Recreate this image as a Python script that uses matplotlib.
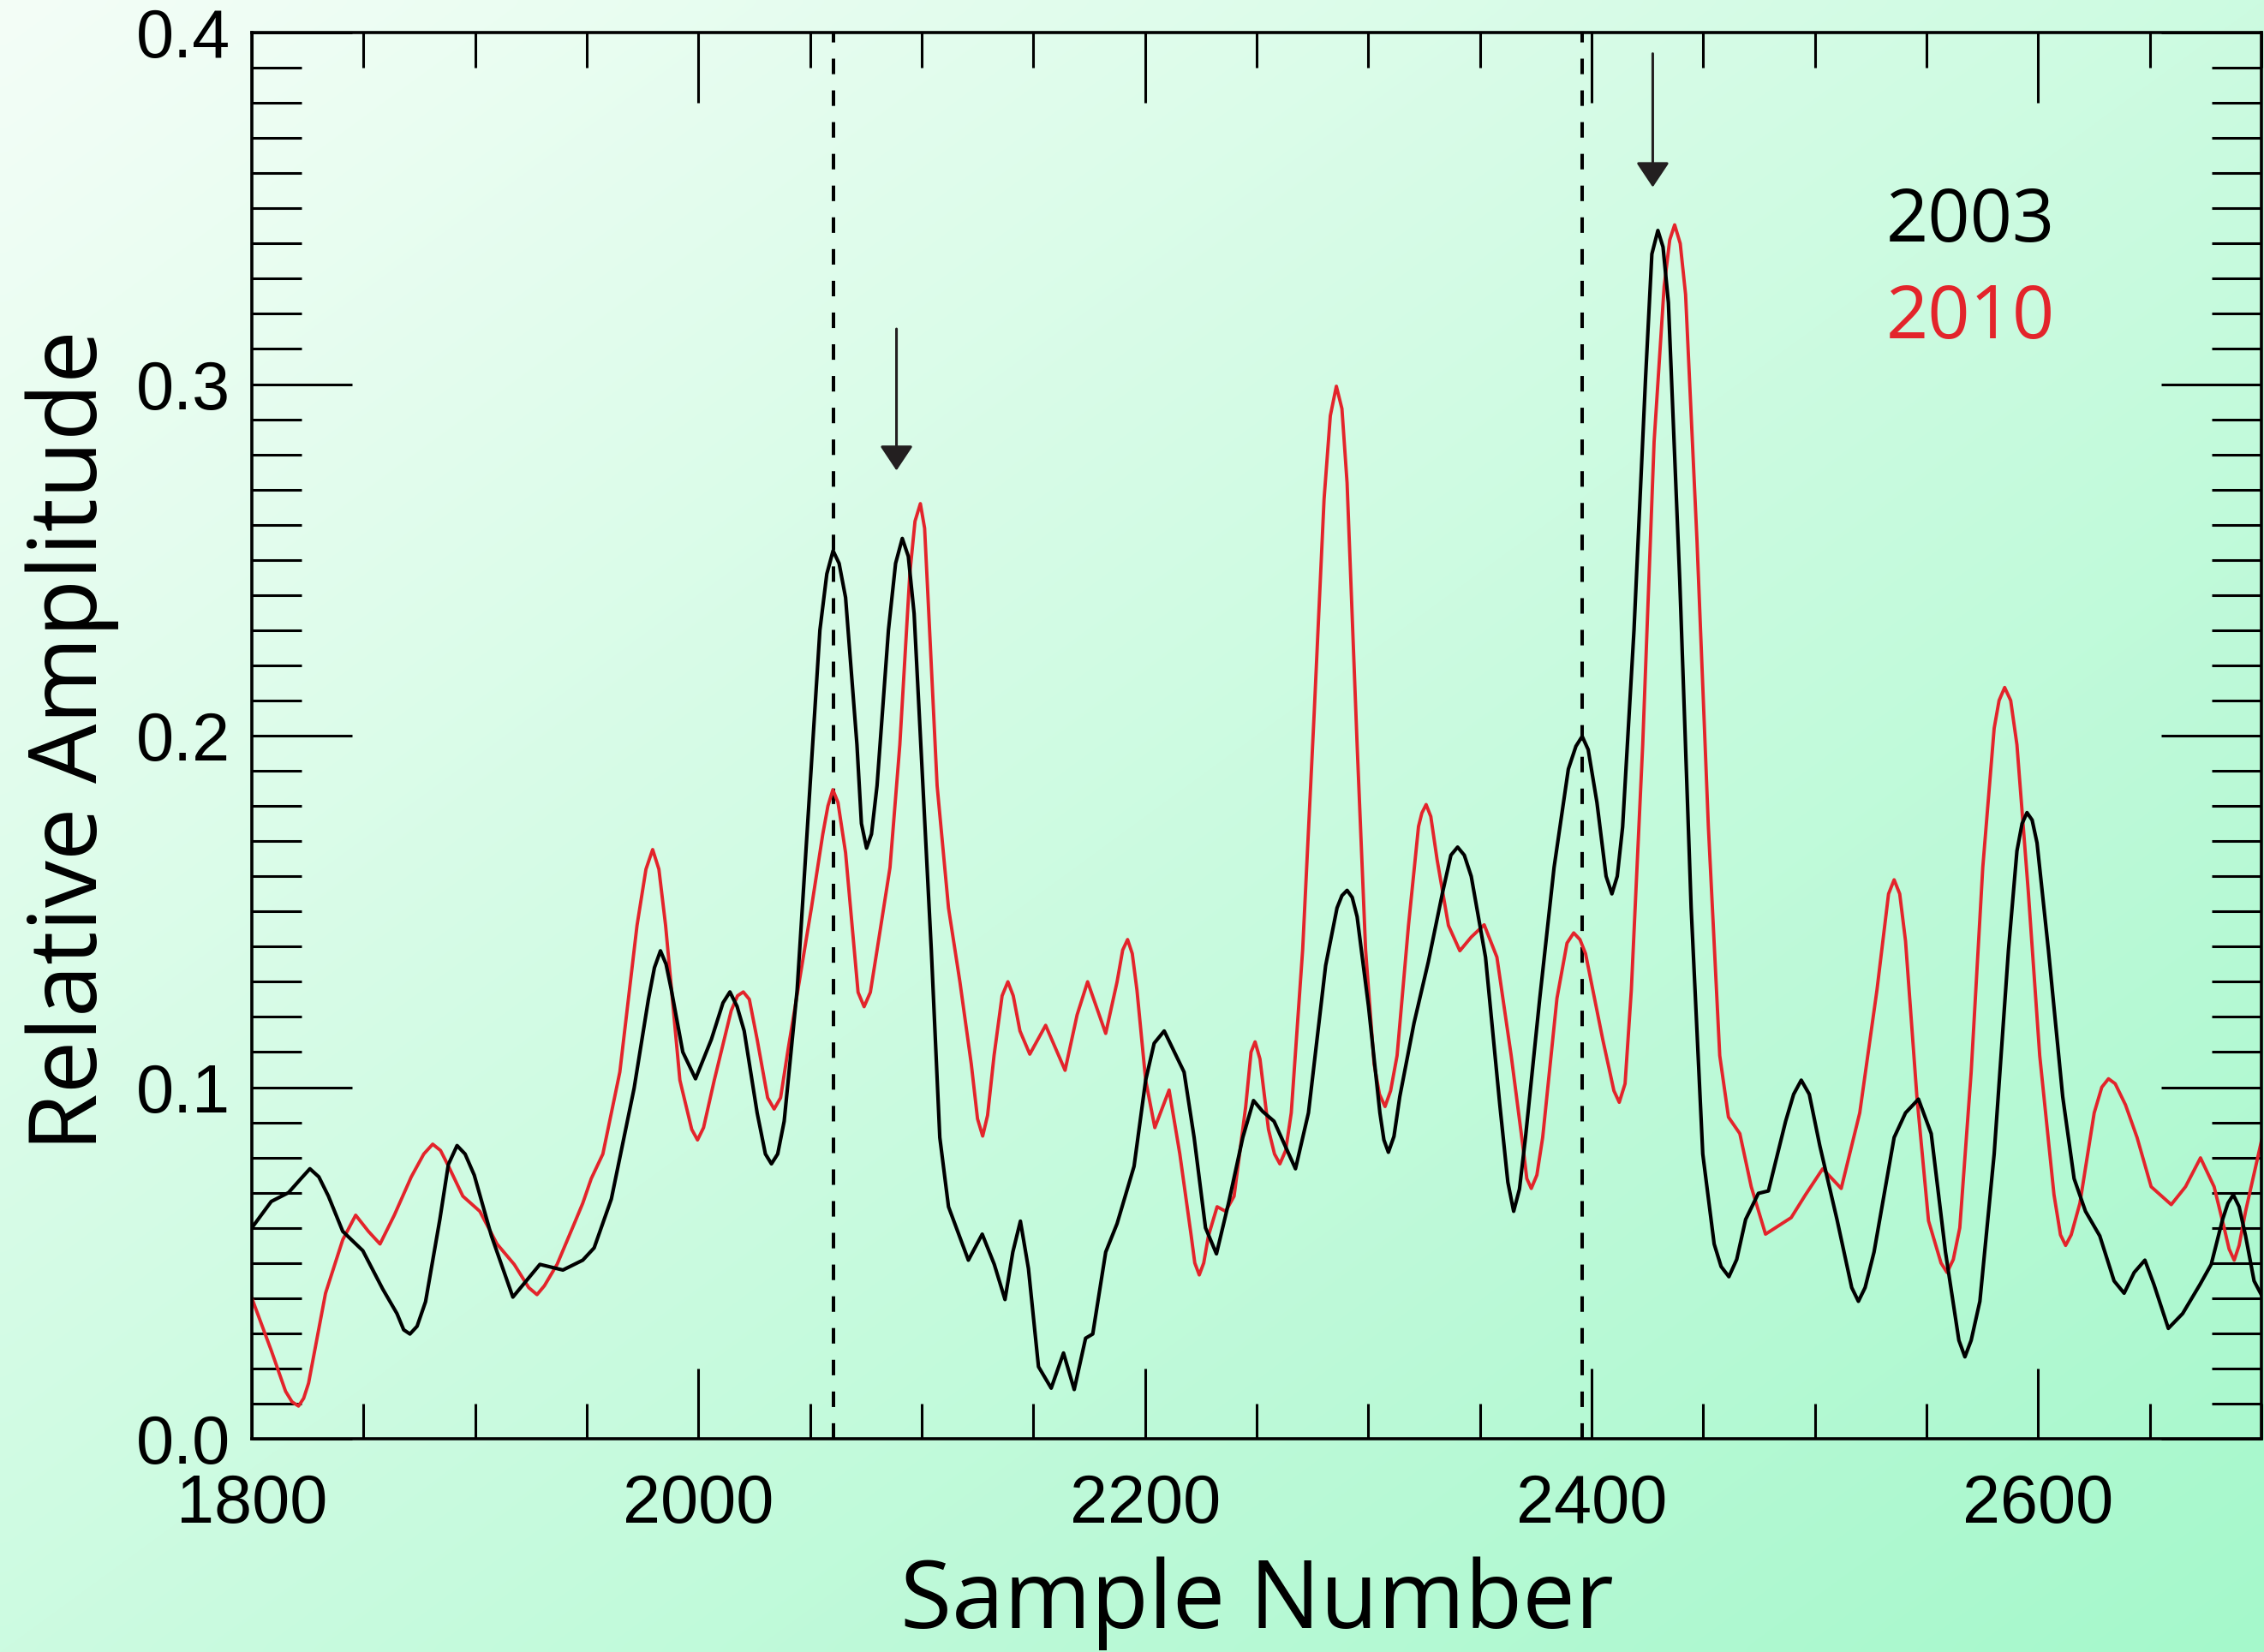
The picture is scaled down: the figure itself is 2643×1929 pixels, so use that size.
import numpy as np
import matplotlib
matplotlib.use("Agg")
import matplotlib.pyplot as plt
from matplotlib.ticker import MultipleLocator, FormatStrFormatter

# ---- data: (sample number, relative amplitude) ----
pts_2003 = [
    (1800, 0.060), (1808.7, 0.0675), (1816.4, 0.070), (1822, 0.074), (1826, 0.0768),
    (1830, 0.0745), (1834.3, 0.069), (1840.7, 0.059), (1849.7, 0.0535), (1858.6, 0.0426),
    (1865, 0.0356), (1868, 0.031), (1870.8, 0.0298), (1874, 0.032), (1877.8, 0.039),
    (1884.2, 0.0624), (1888, 0.078), (1891.9, 0.0834), (1895.5, 0.081), (1899.6, 0.075),
    (1907.3, 0.0577), (1916.9, 0.0403), (1929, 0.0496), (1939.3, 0.048), (1948.2, 0.0508),
    (1953.3, 0.0543), (1961, 0.0682), (1971.2, 0.0997), (1977.6, 0.125), (1980.3, 0.134),
    (1983, 0.1388), (1985.5, 0.135), (1987.9, 0.1276), (1993, 0.110), (1998.7, 0.1024),
    (2005.8, 0.1136), (2011, 0.124), (2014.1, 0.1271), (2017.3, 0.123), (2020.5, 0.116),
    (2026.3, 0.0927), (2030, 0.081), (2032.7, 0.0782), (2035.5, 0.081), (2038.4, 0.0903),
    (2044.2, 0.1276), (2049.3, 0.1788), (2054.4, 0.230), (2057.5, 0.246), (2060.3, 0.2526),
    (2063, 0.249), (2065.9, 0.2393), (2071, 0.1974), (2073, 0.175), (2075.3, 0.168),
    (2077.5, 0.172), (2080, 0.1858), (2085.1, 0.230), (2088.3, 0.249), (2091.3, 0.2561),
    (2094, 0.251), (2096.6, 0.2347), (2099, 0.205), (2101.8, 0.170), (2104.3, 0.139),
    (2108.1, 0.0857), (2112, 0.066), (2120.9, 0.0508), (2127.1, 0.0582), (2132.5, 0.0496),
    (2137.3, 0.0396), (2140.8, 0.0531), (2144.2, 0.0619), (2147.8, 0.0484), (2152.3, 0.0205),
    (2158, 0.0144), (2163.5, 0.0244), (2168.3, 0.014), (2173.4, 0.0286), (2176.6, 0.0298),
    (2182.4, 0.0531), (2187.5, 0.0612), (2195.1, 0.0775), (2200.3, 0.102), (2204.1, 0.1125),
    (2208.6, 0.116), (2217.5, 0.1043), (2222, 0.0857), (2227.1, 0.060), (2232, 0.0526),
    (2237.4, 0.067), (2243.8, 0.0857), (2248.6, 0.0962), (2252.7, 0.0931), (2257.8, 0.0903),
    (2267.4, 0.0768), (2273.2, 0.0927), (2280.9, 0.1346), (2286, 0.151), (2288.2, 0.1545),
    (2290.5, 0.156), (2292.8, 0.154), (2295, 0.1485), (2300.1, 0.123), (2305.2, 0.0927),
    (2307, 0.085), (2309, 0.0815), (2311.5, 0.086), (2314.1, 0.0973), (2320.5, 0.1183),
    (2326.9, 0.1357), (2333.3, 0.1555), (2337, 0.166), (2340, 0.1683), (2343, 0.166),
    (2346.1, 0.160), (2352.5, 0.137), (2358.9, 0.095), (2362.5, 0.073), (2365.1, 0.0647),
    (2367.7, 0.071), (2370.4, 0.0857), (2376.8, 0.1253), (2383.2, 0.1625), (2389.6, 0.1905),
    (2393, 0.197), (2395.8, 0.1998), (2398.5, 0.196), (2402.4, 0.181), (2406.5, 0.160),
    (2409.1, 0.155), (2411.5, 0.160), (2413.9, 0.174), (2419, 0.230), (2424.2, 0.302),
    (2427, 0.337), (2429.7, 0.3437), (2432, 0.339), (2434.4, 0.3232), (2439.5, 0.244),
    (2444.6, 0.151), (2449.8, 0.081), (2454.9, 0.0554), (2458, 0.049), (2461.5, 0.0461),
    (2465, 0.051), (2469, 0.0624), (2474.7, 0.0698), (2479.2, 0.0705), (2486.9, 0.0903),
    (2490.5, 0.098), (2493.9, 0.102), (2497.5, 0.098), (2502.2, 0.0834), (2509.9, 0.0624),
    (2516.5, 0.043), (2519.5, 0.0391), (2522.5, 0.043), (2526.5, 0.0531), (2535.5, 0.0857),
    (2540.6, 0.0927), (2546.4, 0.0966), (2552.1, 0.0868), (2558.5, 0.0531), (2564.5, 0.028),
    (2567.2, 0.0233), (2570, 0.028), (2573.9, 0.0391), (2580.3, 0.081), (2586.7, 0.139),
    (2590.5, 0.1672), (2592.8, 0.175), (2595, 0.1781), (2597.3, 0.176), (2599.5, 0.1695),
    (2604.6, 0.139), (2611, 0.0973), (2616.1, 0.074), (2621.2, 0.0647), (2627.6, 0.0577),
    (2634, 0.0449), (2638.5, 0.0414), (2643, 0.0473), (2647.8, 0.0508), (2651.9, 0.0438),
    (2658.3, 0.0314), (2664.7, 0.0356), (2672.4, 0.0438), (2677.5, 0.0496), (2682.6, 0.0624),
    (2685, 0.067), (2687.4, 0.0694), (2690, 0.066), (2692.9, 0.0577), (2696.7, 0.0449),
    (2700.5, 0.0403),
]

pts_2010 = [
    (1800, 0.040), (1808.7, 0.0251), (1815.1, 0.0135), (1818, 0.0105), (1820.9, 0.0093),
    (1823.2, 0.0115), (1825.4, 0.0158), (1833, 0.0414), (1840.7, 0.0566), (1846.5, 0.0636),
    (1852.2, 0.059), (1857.4, 0.0554), (1863.8, 0.0636), (1871.4, 0.0745), (1877, 0.081),
    (1881, 0.0838), (1884.5, 0.082), (1888.1, 0.0775), (1894.5, 0.069), (1902.1, 0.0647),
    (1909.8, 0.0554), (1917.5, 0.0496), (1924, 0.043), (1927.7, 0.041), (1931, 0.0435),
    (1936.7, 0.0496), (1944.4, 0.0612), (1948.2, 0.067), (1952, 0.074), (1957.2, 0.081),
    (1964.8, 0.1043), (1972.5, 0.146), (1976.5, 0.162), (1979.5, 0.1676), (1982.3, 0.162),
    (1985.3, 0.146), (1991.7, 0.102), (1997, 0.088), (1999.6, 0.085), (2002.3, 0.0885),
    (2007.1, 0.102), (2014.7, 0.1218), (2017.5, 0.126), (2020.1, 0.1271), (2022.8, 0.125),
    (2026.3, 0.1136), (2031, 0.097), (2033.9, 0.0938), (2036.8, 0.097), (2040.3, 0.1113),
    (2050.6, 0.151), (2055.7, 0.172), (2058, 0.180), (2060.2, 0.1846), (2062.5, 0.181),
    (2065.9, 0.1667), (2071.5, 0.127), (2074.2, 0.1229), (2077, 0.127), (2080, 0.139),
    (2085.8, 0.1625), (2090.2, 0.1974), (2094.7, 0.2463), (2097, 0.261), (2099.4, 0.266),
    (2101.3, 0.259), (2103, 0.237), (2106.9, 0.1858), (2112, 0.151), (2117.1, 0.13),
    (2122.2, 0.1066), (2125, 0.091), (2127.3, 0.0861), (2129.5, 0.092), (2132.4, 0.109),
    (2136, 0.126), (2138.6, 0.13), (2141, 0.126), (2144, 0.116), (2148.4, 0.1094),
    (2155.5, 0.1176), (2164.2, 0.1048), (2169.6, 0.1206), (2174.3, 0.13), (2182.4, 0.1153),
    (2187.5, 0.13), (2190, 0.139), (2192.2, 0.142), (2194.3, 0.138), (2196.4, 0.1276),
    (2200.3, 0.102), (2204.4, 0.0885), (2210.8, 0.0992), (2215.6, 0.081), (2220.7, 0.0577),
    (2222.3, 0.050), (2224.3, 0.0466), (2226.3, 0.050), (2228.4, 0.0577), (2232.3, 0.066),
    (2236.1, 0.0647), (2239.9, 0.069), (2245.1, 0.0945), (2247.5, 0.110), (2249.3, 0.1129),
    (2251.5, 0.108), (2255.3, 0.088), (2258, 0.081), (2260.4, 0.0782), (2263, 0.082),
    (2265.5, 0.0927), (2270.6, 0.139), (2275.8, 0.2068), (2280.2, 0.2673), (2283, 0.291),
    (2285.7, 0.2994), (2288.2, 0.293), (2290.5, 0.2719), (2295, 0.1974), (2298.8, 0.139),
    (2302.6, 0.1066), (2305, 0.098), (2307.5, 0.0945), (2310, 0.099), (2312.9, 0.109),
    (2318, 0.146), (2322.5, 0.1742), (2324, 0.178), (2325.9, 0.1804), (2328, 0.177),
    (2330.8, 0.1648), (2335.9, 0.146), (2341, 0.1388), (2346.1, 0.1427), (2351.9, 0.1462),
    (2357.6, 0.137), (2364, 0.109), (2369.2, 0.0834), (2371, 0.074), (2373, 0.0712),
    (2375.5, 0.075), (2378.1, 0.0857), (2384.5, 0.1253), (2389, 0.141), (2392, 0.1439),
    (2394.8, 0.142), (2397.3, 0.138), (2405, 0.1136), (2410, 0.099), (2412.4, 0.0957),
    (2415, 0.101), (2417.8, 0.1276), (2422.9, 0.1974), (2428, 0.2836), (2432.5, 0.3278),
    (2435, 0.341), (2437.2, 0.3453), (2439.7, 0.340), (2442.1, 0.3255), (2447.2, 0.2556),
    (2452.3, 0.1742), (2457.4, 0.109), (2461.3, 0.0915), (2466.4, 0.0868), (2471.5, 0.0717),
    (2477.9, 0.0582), (2489.4, 0.0629), (2495.8, 0.0694), (2503.5, 0.0768), (2511.8, 0.0712),
    (2520.1, 0.0927), (2527.8, 0.1276), (2533, 0.155), (2535.5, 0.159), (2538, 0.155),
    (2540.6, 0.1416), (2545.7, 0.0973), (2550.9, 0.062), (2556.5, 0.050), (2559.2, 0.0473),
    (2562, 0.051), (2564.9, 0.060), (2570, 0.1043), (2575.2, 0.1625), (2580.3, 0.2021),
    (2582.5, 0.210), (2585, 0.2137), (2587.7, 0.210), (2590.5, 0.1974), (2595.6, 0.1555),
    (2600.7, 0.109), (2607.1, 0.0694), (2610, 0.058), (2612.3, 0.055), (2614.8, 0.058),
    (2618.7, 0.067), (2625.1, 0.0927), (2628.5, 0.100), (2631.5, 0.1024), (2634.5, 0.101),
    (2639.1, 0.095), (2644.3, 0.0857), (2650.6, 0.0717), (2659.6, 0.0666), (2666, 0.0717),
    (2672.7, 0.0799), (2678.8, 0.0717), (2683.3, 0.060), (2685.5, 0.054), (2687.8, 0.0508),
    (2690, 0.055), (2692.9, 0.0647), (2700.5, 0.0861),
]

marker_lines = [2060.3, 2395.8]
arrows = [(2088.7, 0.3157, 0.2754), (2427.4, 0.394, 0.356)]
series_labels = ["2003", "2010"]

RED = "#E3242B"
INK = "#231F20"
TICK_FONT = "Liberation Sans"
LABEL_FONT = "Open Sans"

x_2003, amp_2003 = zip(*pts_2003)
x_2010, amp_2010 = zip(*pts_2010)

fig = plt.figure(figsize=(13.215, 9.645), dpi=200)

# background gradient (white-green, top-left to bottom-right)
bg = fig.add_axes([0, 0, 1, 1])
rows, cols = np.mgrid[0:1:200j, 0:1:200j]
t = (rows + cols) / 2
c0 = np.array([244, 254, 247]) / 255
c1 = np.array([165, 248, 203]) / 255
grad = c0[None, None, :] * (1 - t[..., None]) + c1[None, None, :] * t[..., None]
bg.imshow(grad, extent=[0, 1, 0, 1], aspect="auto", interpolation="bicubic")
bg.axis("off")

ax = fig.add_axes([0.11124, 0.12908, 0.88763, 0.85122])
ax.set_facecolor("none")

for xv in marker_lines:
    ax.axvline(xv, color="black", linewidth=1.45, dashes=[4.5, 4.7], zorder=1)

ax.plot(x_2003, amp_2003, color="black", linewidth=1.5, solid_joinstyle="round", zorder=3)
ax.plot(x_2010, amp_2010, color=RED, linewidth=1.4, solid_joinstyle="round", zorder=2)

for xa, y0, y1 in arrows:
    ax.annotate("", xy=(xa, y1), xytext=(xa, y0),
                arrowprops=dict(arrowstyle="-|>,head_length=0.45,head_width=0.3",
                                color=INK, lw=1.1, shrinkA=0, shrinkB=0,
                                mutation_scale=20))

ax.text(2532, 0.3406, series_labels[0], color="black", fontsize=31,
        family=LABEL_FONT, va="baseline", ha="left")
ax.text(2532, 0.313, series_labels[1], color=RED, fontsize=31,
        family=LABEL_FONT, va="baseline", ha="left")

ax.set_xlim(1800, 2700)
ax.set_ylim(0, 0.4)
ax.xaxis.set_major_locator(MultipleLocator(200))
ax.xaxis.set_minor_locator(MultipleLocator(50))
ax.yaxis.set_major_locator(MultipleLocator(0.1))
ax.yaxis.set_minor_locator(MultipleLocator(0.01))
ax.yaxis.set_major_formatter(FormatStrFormatter("%.1f"))

ax.tick_params(axis="x", which="major", direction="in", length=29.5, width=1.1,
               top=True, pad=14.4, labelsize=28.5)
ax.tick_params(axis="x", which="minor", direction="in", length=14.8, width=1.1, top=True)
ax.tick_params(axis="y", which="major", direction="in", length=42, width=1.1,
               right=True, pad=9, labelsize=28.5)
ax.tick_params(axis="y", which="minor", direction="in", length=21, width=1.1, right=True)
for lab in ax.get_xticklabels() + ax.get_yticklabels():
    lab.set_family(TICK_FONT)
for sp in ax.spines.values():
    sp.set_linewidth(1.3)

fig.text(0.5551, 0.0145, "Sample Number", fontsize=39.5, family=LABEL_FONT,
         ha="center", va="baseline")
fig.text(0.0428, 0.5516, "Relative Amplitude", fontsize=39.5, family=LABEL_FONT,
         ha="center", va="baseline", rotation=90, rotation_mode="anchor")

fig.savefig("out.png", dpi=200)
